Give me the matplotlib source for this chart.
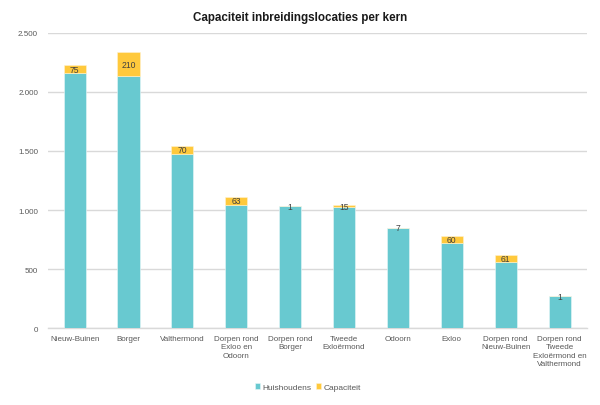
import matplotlib.pyplot as plt
from matplotlib.ticker import FuncFormatter
import numpy as np

kernen = ["Nieuw-Buinen", "Borger", "Valthermond", "Dorpen rond\nExloo en\nOdoorn",
          "Dorpen rond\nBorger", "Tweede\nExloërmond", "Odoorn", "Exloo",
          "Dorpen rond\nNieuw-Buinen", "Dorpen rond\nTweede\nExloërmond en\nValthermond"]
huishoudens = [2155, 2130, 1475, 1045, 1030, 1025, 845, 723, 560, 272]
capaciteit = [75, 210, 70, 63, 1, 15, 7, 60, 61, 1]

teal = "#68C9D0"
yellow = "#FFC93C"
grey = "#595959"

plt.rcParams["font.family"] = ["Liberation Sans", "DejaVu Sans"]

fig = plt.figure(figsize=(6, 4.06), dpi=100)
ax = fig.add_axes([0.0795, 0.189, 0.898, 0.728])

x = np.arange(len(kernen))
w = 0.41
ax.bar(x, huishoudens, w, color=teal, edgecolor="#e8f7f8", linewidth=0.4,
       label="Huishoudens", zorder=3)
ax.bar(x, capaciteit, w, bottom=huishoudens, color=yellow, edgecolor="#fff3d0",
       linewidth=0.4, label="Capaciteit", zorder=3)

for xi, h, c in zip(x, huishoudens, capaciteit):
    ax.text(xi, h + c / 2, str(c), ha="center", va="center", fontsize=6.2,
            color="#404040", zorder=4)

ax.set_xlim(-0.5, len(kernen) - 0.5)
ax.set_ylim(0, 2500)
ax.set_yticks(np.arange(0, 2501, 500))
ax.yaxis.set_major_formatter(FuncFormatter(lambda v, p: f"{int(v):,}".replace(",", ".")))
ax.set_xticks(x)
ax.set_xticklabels(kernen, fontsize=5.8, color=grey, linespacing=1.25)
ax.tick_params(axis="y", labelsize=5.8, labelcolor=grey, length=0, pad=7)
ax.tick_params(axis="x", length=0, pad=5)
ax.grid(axis="y", color="#d9d9d9", linewidth=1, zorder=0)
for s in ["top", "right", "left"]:
    ax.spines[s].set_visible(False)
ax.spines["bottom"].set_color("#d9d9d9")
ax.spines["bottom"].set_linewidth(1)

fig.text(0.5, 0.955, "Capaciteit inbreidingslocaties per kern", ha="center",
         va="center", fontsize=8.4, fontweight="bold", color="#1a1a1a")

fig.legend(loc="center", bbox_to_anchor=(0.513, 0.044), ncol=2, frameon=False,
           fontsize=6, labelcolor=grey, handlelength=0.6, handleheight=0.6,
           handletextpad=0.3, columnspacing=0.6)

fig.savefig("out.png", dpi=100)
